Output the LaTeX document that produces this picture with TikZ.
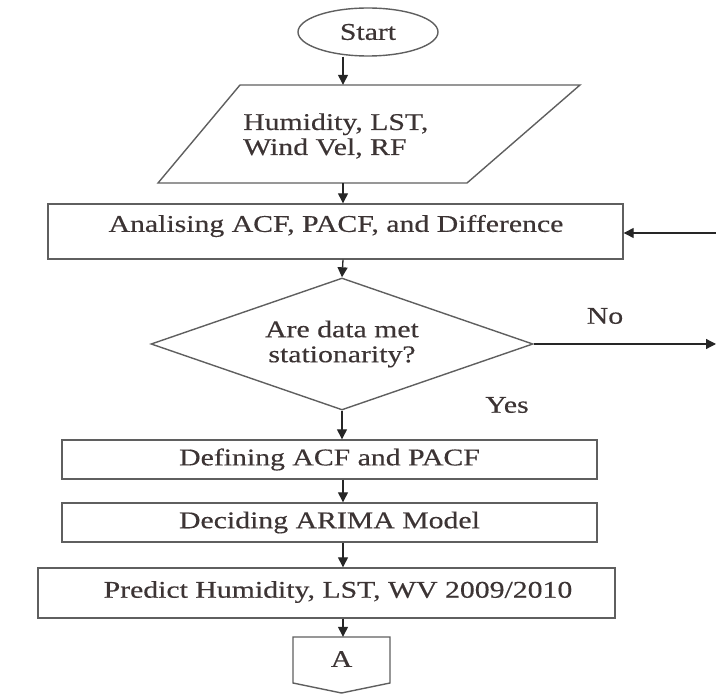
\documentclass[tikz,border=0pt]{standalone}
\usepackage{fontspec}
\setmainfont[FakeStretch=1.24,FakeBold=0.4]{Liberation Serif}
\usetikzlibrary{shapes.geometric,arrows.meta,fit}
\definecolor{ln}{RGB}{95,95,95}
\definecolor{tx}{RGB}{60,52,52}
\begin{document}
\begin{tikzpicture}[x=1pt,y=-1pt,
  every node/.style={font=\fontsize{24}{25}\selectfont, text=tx},
  shp/.style={draw=ln, line width=1.4pt},
  boxn/.style={shp, rectangle, inner sep=0pt},
  arr/.style={draw=black!85, line width=1.3pt, -{Triangle[length=10pt,width=10pt]}},
]
\useasboundingbox (0,0) rectangle (716,695);
\coordinate (col) at (343,0);
% start
\node[shp, ellipse, minimum width=140pt, minimum height=48pt, inner sep=0pt] (start) at (368,32) {Start};
% input parallelogram
\coordinate (p1) at (240,85);
\coordinate (p2) at (580,85);
\coordinate (p3) at (467,183);
\coordinate (p4) at (158,183);
\draw[shp] (p1)--(p2)--(p3)--(p4)--cycle;
\node[fit=(p1)(p3), inner sep=0pt] (para) {};
\node[align=left, anchor=west, inner sep=0pt] (paraT) at (243,136) {Humidity, LST,\\Wind Vel, RF};
% analysing
\node[boxn, minimum width=575pt, minimum height=55pt] (ana) at (335.5,231.5) {};
\node[inner sep=0pt] (anaT) at (336,226) {Analising ACF, PACF, and Difference};
% decision
\node[shp, diamond, aspect=2.894, minimum width=382pt, minimum height=132pt, inner sep=0pt, align=center] (dia) at (342,344) {Are data met\\stationarity?};
\node (no) at (605,316) {No};
\node (yes) at (507,405) {Yes};
% boxes
\node[boxn, minimum width=535pt, minimum height=39pt] (def) at (329.5,459.5) {Defining ACF and PACF};
\node[boxn, minimum width=535pt, minimum height=39pt] (dec) at (329.5,522.5) {Deciding ARIMA Model};
\node[boxn, minimum width=577pt, minimum height=50pt] (pred) at (326.5,593) {};
\node[inner sep=0pt] (predT) at (338,592) {Predict Humidity, LST, WV 2009/2010};
% off-page connector
\coordinate (a1) at (293,637);
\coordinate (a2) at (390,637);
\coordinate (a3) at (390,683);
\coordinate (a4) at (341.5,693);
\coordinate (a5) at (293,683);
\draw[shp] (a1)--(a2)--(a3)--(a4)--(a5)--cycle;
\node[fit=(a1)(a3), inner sep=0pt] (offA) {};
\node (Atext) at (341.5,659) {A};
% connectors
\draw[arr] (col |- start.south) -- (col |- para.north);
\draw[arr] (col |- para.south) -- (col |- ana.north);
\draw[arr] (col |- ana.south) -- (dia.north);
\draw[arr] (dia.south) -- (def.north -| dia.south);
\draw[arr] (def.south -| col) -- (dec.north -| col);
\draw[arr] (dec.south -| col) -- (pred.north -| col);
\draw[arr] (pred.south -| col) -- (offA.north -| col);
\coordinate (rin) at (716,233);
\draw[arr] (rin) -- (rin -| ana.east);
\coordinate (nout) at (716,344);
\draw[arr] (dia.east) -- (nout);
\end{tikzpicture}
\end{document}
